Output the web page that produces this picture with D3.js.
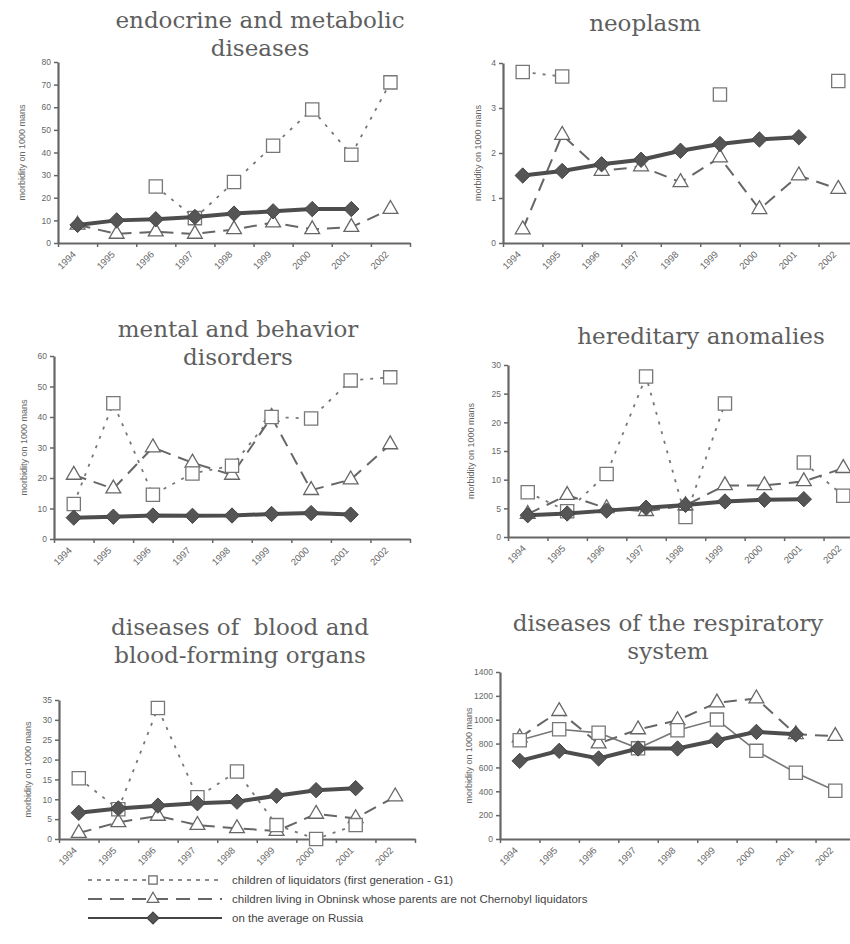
<!DOCTYPE html>
<html>
<head>
<meta charset="utf-8">
<script src="https://cdn.jsdelivr.net/npm/d3@7"></script>
<style>
  body { margin: 0; background: #fff; }
  svg { display: block; }
  .title { white-space: pre; }
</style>
</head>
<body>
<div id="chart"></div>
<script>
// categories
var years = ["1994", "1995", "1996", "1997", "1998", "1999", "2000", "2001", "2002"];

// endocrine and metabolic diseases
var g1Endocrine  = [null, null, 25, 11, 27, 43, 59, 39, 71];
var obnEndocrine = [8, 4, 5, 4, 6, 9, 6, 7, 15];
var rusEndocrine = [8, 10, 10.5, 11.5, 13, 14, 15, 15, null];

// neoplasm
var g1Neo  = [3.8, 3.7, null, null, null, 3.3, null, null, 3.6];
var obnNeo = [0.3, 2.4, 1.6, 1.7, 1.35, 1.9, 0.75, 1.5, 1.2];
var rusNeo = [1.5, 1.6, 1.75, 1.85, 2.05, 2.2, 2.3, 2.35, null];

// mental and behavior disorders
var g1Mental  = [11.5, 44.5, 14.5, 21.5, 24, 40, 39.5, 52, 53];
var obnMental = [21, 16.5, 30, 25, 21, 40, 16, 19.5, 31];
var rusMental = [7, 7.3, 7.7, 7.6, 7.7, 8.2, 8.5, 8, null];

// hereditary anomalies
var g1Hered  = [7.8, 4.5, 11, 28, 3.5, 23.3, null, 13, 7.2];
var obnHered = [4, 7.3, 5, 4.5, 5.5, 9, 9, 9.7, 12];
var rusHered = [3.8, 4.1, 4.6, 5.1, 5.6, 6.2, 6.5, 6.6, null];

// diseases of blood and blood-forming organs
var g1Blood  = [15.3, 7.5, 33, 10.5, 17, 3.5, 0, 3.5, null];
var obnBlood = [1.5, 4.2, 5.8, 3.5, 2.7, 2, 6.3, 5.2, 10.7];
var rusBlood = [6.6, 7.7, 8.4, 9, 9.4, 10.9, 12.3, 12.8, null];

// diseases of the respiratory system
var g1Resp  = [828, 920, 890, 760, 912, 1001, 739, 555, 404];
var obnResp = [850, 1071, 800, 918, 995, 1143, 1177, 878, 862];
var rusResp = [655, 739, 675, 759, 759, 828, 898, 878, null];

// y axis tick values
var ticksEndocrine = d3.range(0, 81, 10);
var ticksNeo = [0, 1, 2, 3, 4];
var ticksMental = d3.range(0, 61, 10);
var ticksHered = d3.range(0, 31, 5);
var ticksBlood = d3.range(0, 36, 5);
var ticksResp = d3.range(0, 1401, 200);

var yLabel = "morbidity on 1000 mans";
var legendLabels = [
  "children of liquidators (first generation - G1)",
  "children living in Obninsk whose parents are not Chernobyl liquidators",
  "on the average on Russia"
];

var panels = [
  {title: ["endocrine and metabolic", "diseases"], tx: 260, ty: 28,
   g1: g1Endocrine, obn: obnEndocrine, rus: rusEndocrine, ticks: ticksEndocrine,
   x0: 58, x1: 410, y0: 243, y1: 62, lx: 22},
  {title: ["neoplasm"], tx: 645, ty: 31,
   g1: g1Neo, obn: obnNeo, rus: rusNeo, ticks: ticksNeo,
   x0: 503, x1: 858, y0: 243, y1: 63, lx: 478},
  {title: ["mental and behavior", "disorders"], tx: 238, ty: 337,
   g1: g1Mental, obn: obnMental, rus: rusMental, ticks: ticksMental,
   x0: 54, x1: 410, y0: 539, y1: 356, lx: 24},
  {title: ["hereditary anomalies"], tx: 701, ty: 344,
   g1: g1Hered, obn: obnHered, rus: rusHered, ticks: ticksHered,
   x0: 508, x1: 863, y0: 537, y1: 365, lx: 471},
  {title: ["diseases of  blood and", "blood-forming organs"], tx: 240, ty: 635,
   g1: g1Blood, obn: obnBlood, rus: rusBlood, ticks: ticksBlood,
   x0: 59, x1: 415, y0: 839, y1: 700, lx: 28},
  {title: ["diseases of the respiratory", "system"], tx: 668, ty: 631,
   g1: g1Resp, obn: obnResp, rus: rusResp, ticks: ticksResp, solidG1: true,
   x0: 500, x1: 855, y0: 839, y1: 672, lx: 469}
];

var svg = d3.select("#chart").append("svg")
    .attr("width", 850)
    .attr("height", 944);

var squareSym = d3.symbol().type(d3.symbolSquare).size(175);
var triSym = d3.symbol().type(d3.symbolTriangle).size(95);
var diaType = d3.symbolDiamond2 || d3.symbolDiamond;
var diaSym = d3.symbol().type(diaType).size(150);

function drawPanel(p) {
    var g = svg.append("g");
    // x: edges of 9 category bands, points sit in the middle of each band
    var x = d3.scaleLinear().domain([0, years.length]).range([p.x0, p.x1]);
    var y = d3.scaleLinear().domain([0, d3.max(p.ticks)]).range([p.y0, p.y1]);

    // title
    var t = g.append("text")
        .attr("class", "title")
        .attr("x", p.tx).attr("y", p.ty)
        .attr("text-anchor", "middle")
        .attr("font-family", "DejaVu Serif")
        .attr("font-size", 23)
        .attr("fill", "#5e5e5e");
    p.title.forEach(function(line, i) {
        t.append("tspan").attr("x", p.tx).attr("dy", i ? 28 : 0).text(line);
    });

    // axes
    var xAxis = d3.axisBottom(x)
        .tickValues(d3.range(0, years.length + 1))
        .tickFormat(function(i) { return years[i] || ""; })
        .tickSize(4).tickSizeOuter(0);
    var gx = g.append("g").attr("transform", "translate(0," + p.y0 + ")").call(xAxis);

    var yAxis = d3.axisLeft(y).tickValues(p.ticks)
        .tickFormat(d3.format("d"))
        .tickSize(4).tickSizeOuter(0);
    g.append("g").attr("transform", "translate(" + p.x0 + ",0)").call(yAxis);

    g.selectAll(".domain").attr("stroke", "#666").attr("stroke-width", 2.2);
    g.selectAll(".tick line").attr("stroke", "#666").attr("stroke-width", 1.5);
    g.selectAll(".tick text")
        .attr("fill", "#666")
        .attr("font-family", "Liberation Sans")
        .attr("font-size", 8.5);
    gx.selectAll("text")
        .attr("font-size", 9.5)
        .attr("text-anchor", "end")
        .attr("transform", "translate(9,3) rotate(-45)")
        .attr("dy", "0.6em")
        .attr("dx", "0");

    // y label
    g.append("text")
        .attr("transform", "translate(" + p.lx + "," + ((p.y0 + p.y1) / 2) + ") rotate(-90)")
        .attr("text-anchor", "middle")
        .attr("dy", "0.35em")
        .attr("font-family", "Liberation Sans")
        .attr("font-size", 9)
        .attr("fill", "#666")
        .text(yLabel);

    var line = d3.line()
        .defined(function(d) { return d != null; })
        .x(function(d, i) { return x(i + 0.5); })
        .y(function(d) { return y(d); });

    // G1 series line
    g.append("path").datum(p.g1)
        .attr("d", line)
        .attr("fill", "none")
        .attr("stroke", "#777")
        .attr("stroke-width", p.solidG1 ? 1.6 : 1.8)
        .attr("stroke-dasharray", p.solidG1 ? null : "3,7");

    // Obninsk series line
    g.append("path").datum(p.obn)
        .attr("d", line)
        .attr("fill", "none")
        .attr("stroke", "#666")
        .attr("stroke-width", 2)
        .attr("stroke-dasharray", "13,8");

    // markers keep their index
    function pts(arr) {
        return arr.map(function(v, i) { return {v: v, i: i}; })
            .filter(function(d) { return d.v != null; });
    }
    function place(d) { return "translate(" + x(d.i + 0.5) + "," + y(d.v) + ")"; }

    g.selectAll(".triM").data(pts(p.obn)).enter().append("path")
        .attr("class", "triM")
        .attr("d", triSym)
        .attr("transform", place)
        .attr("fill", "#fff").attr("stroke", "#666").attr("stroke-width", 1.3);

    g.selectAll(".sqM").data(pts(p.g1)).enter().append("path")
        .attr("class", "sqM")
        .attr("d", squareSym)
        .attr("transform", place)
        .attr("fill", "#fff").attr("stroke", "#777").attr("stroke-width", 1.3);

    // Russia average
    g.append("path").datum(p.rus)
        .attr("d", line)
        .attr("fill", "none")
        .attr("stroke", "#4d4d4d")
        .attr("stroke-width", 4);

    g.selectAll(".diaM").data(pts(p.rus)).enter().append("path")
        .attr("class", "diaM")
        .attr("d", diaSym)
        .attr("transform", place)
        .attr("fill", "#555").attr("stroke", "#444").attr("stroke-width", 1);
}

panels.forEach(drawPanel);

// legend
var legendY = [880, 899, 918];
var legendStyles = [
    {dash: "4,5", w: 1.6, stroke: "#666", type: d3.symbolSquare, fill: "#fff", size: 70},
    {dash: "14,8", w: 2, stroke: "#666", type: d3.symbolTriangle, fill: "#fff", size: 60},
    {dash: null, w: 2, stroke: "#444", type: diaType, fill: "#555", size: 90}
];
var lg = svg.append("g");
legendLabels.forEach(function(label, i) {
    var s = legendStyles[i];
    lg.append("line")
        .attr("x1", 88).attr("x2", 222)
        .attr("y1", legendY[i]).attr("y2", legendY[i])
        .attr("stroke", s.stroke).attr("stroke-width", s.w)
        .attr("stroke-dasharray", s.dash);
    lg.append("path")
        .attr("d", d3.symbol().type(s.type).size(s.size))
        .attr("transform", "translate(153," + legendY[i] + ")")
        .attr("fill", s.fill).attr("stroke", s.stroke).attr("stroke-width", 1.2);
    lg.append("text")
        .attr("x", 232).attr("y", legendY[i])
        .attr("dy", "0.35em")
        .attr("font-family", "Liberation Sans")
        .attr("font-size", 11.5)
        .attr("fill", "#444")
        .text(label);
});
</script>
</body>
</html>
